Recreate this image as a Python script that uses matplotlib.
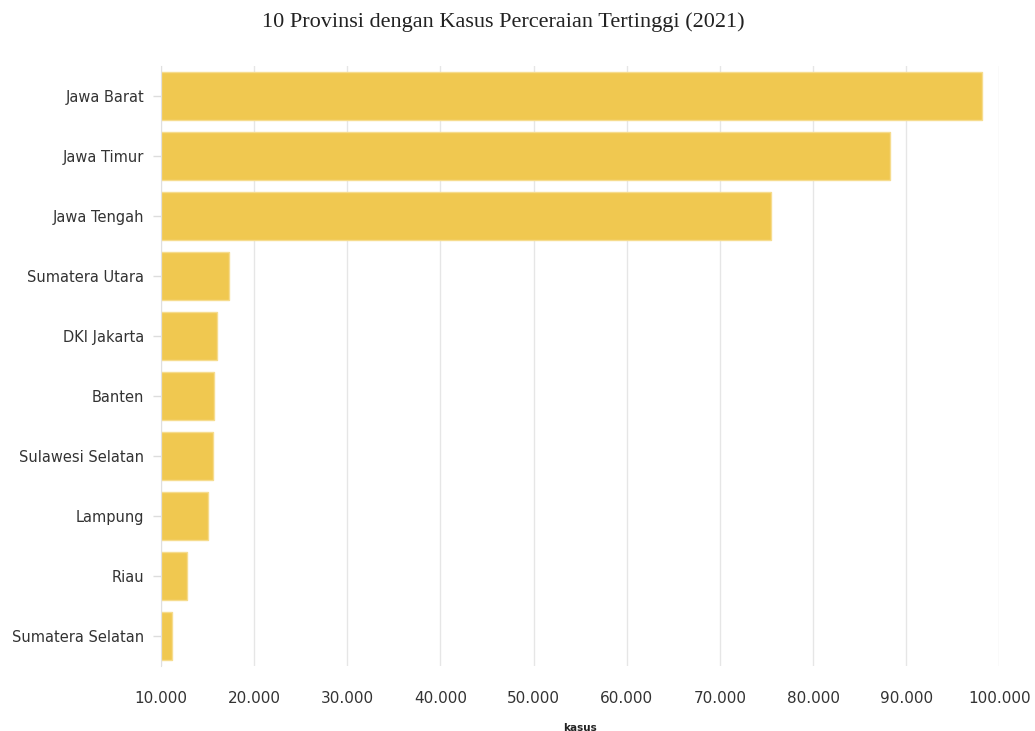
import matplotlib.pyplot as plt
from matplotlib.ticker import FuncFormatter

# data
provinsi = ["Jawa Barat", "Jawa Timur", "Jawa Tengah", "Sumatera Utara", "DKI Jakarta",
            "Banten", "Sulawesi Selatan", "Lampung", "Riau", "Sumatera Selatan"]
kasus = [98170, 88240, 75500, 17300, 15980, 15730, 15580, 15040, 12790, 11180]
x_ticks = [10000, 20000, 30000, 40000, 50000, 60000, 70000, 80000, 90000, 100000]

plt.rcParams['font.family'] = ['DejaVu Sans']

fig = plt.figure(figsize=(10.35, 7.31), dpi=100)
ax = fig.add_axes([0.1556, 0.0889, 0.81, 0.8208])

ypos = list(range(len(provinsi)))
ax.barh(ypos, [v - 10000 for v in kasus], left=10000, height=0.8,
        color='#F0C850', edgecolor='#F6DC8E', linewidth=1, zorder=2)

ax.set_ylim(len(provinsi) - 0.5, -0.5)
ax.set_xlim(10000, 100000)
ax.set_yticks(ypos)
ax.set_yticklabels(provinsi)
ax.set_xticks(x_ticks)
ax.xaxis.set_major_formatter(FuncFormatter(lambda v, p: f"{int(v):,}".replace(",", ".")))

ax.grid(axis='x', color='#e6e6e6', linewidth=1, zorder=0)
for s in ['top', 'right', 'bottom']:
    ax.spines[s].set_visible(False)
ax.spines['left'].set_color('#e0e0e0')
ax.spines['left'].set_zorder(3)

ax.tick_params(axis='x', length=0, pad=18, labelsize=11, labelcolor='#333333')
ax.tick_params(axis='y', length=6, width=1, color='#dddddd', pad=6, labelsize=10.5,
               labelcolor='#333333')

ax.set_xlabel("kasus", fontsize=7.5, fontweight='bold', color='#222222', labelpad=12)
fig.text(0.4865, 0.97, "10 Provinsi dengan Kasus Perceraian Tertinggi (2021)",
         ha='center', va='center', fontsize=16, family='Liberation Serif', color='#222222')

fig.savefig("out.png", dpi=100)
